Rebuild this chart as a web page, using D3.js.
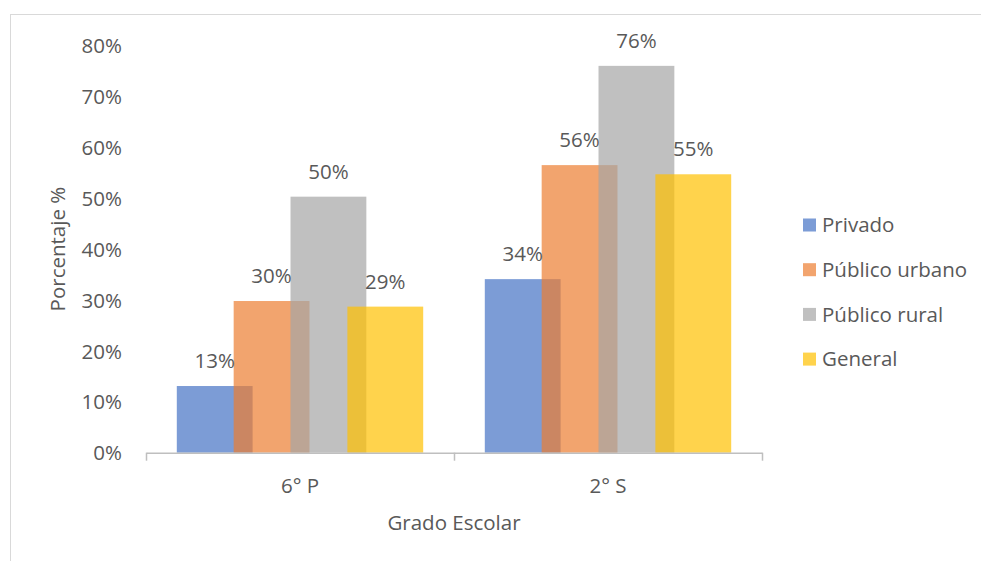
<!DOCTYPE html>
<html>
<head>
<meta charset="utf-8">
<script src="https://cdn.jsdelivr.net/npm/d3@7"></script>
<style>
  html, body { margin: 0; padding: 0; background: #fff; }
  svg { display: block; }
  text { font-family: "Open Sans", "Noto Sans", sans-serif; fill: #595959; }
</style>
</head>
<body>
<svg id="chart" width="981" height="561"></svg>
<script>
// ---- Data ----
const categories = ["6° P", "2° S"];
const seriesNames = ["Privado", "Público urbano", "Público rural", "General"];
const privado = [0.131, 0.341];
const publicoUrbano = [0.298, 0.565];
const publicoRural = [0.503, 0.760];
const general = [0.287, 0.547];
const yTicks = [0, 0.1, 0.2, 0.3, 0.4, 0.5, 0.6, 0.7, 0.8];
const colors = ["#4472C4", "#ED7D31", "#A5A5A5", "#FFC000"];
const xTitle = "Grado Escolar";
const yTitle = "Porcentaje %";

const seriesValues = [privado, publicoUrbano, publicoRural, general];

// ---- Layout ----
const svg = d3.select("#chart");
const plot = { left: 146, right: 762, top: 45.5, bottom: 452.7 };
const fontSize = 20.5;

// Outer border
svg.append("rect")
  .attr("x", 10.5).attr("y", 14.5)
  .attr("width", 1000).attr("height", 600)
  .attr("fill", "none").attr("stroke", "#D9D9D9").attr("stroke-width", 1);

const x = d3.scaleBand().domain(categories).range([plot.left, plot.right]).padding(0);
const y = d3.scaleLinear().domain([0, 0.8]).range([plot.bottom, plot.top]);

const groupW = x.bandwidth() * 0.8;
const overlap = 0.25;
const barW = groupW / ((seriesNames.length - 1) * (1 - overlap) + 1);
const step = barW * (1 - overlap);

const fmt = d3.format(".0%");

// Y axis labels (no line, no gridlines)
const yAxis = d3.axisLeft(y).tickValues(yTicks).tickFormat(fmt).tickSize(0).tickPadding(0);
const gy = svg.append("g").attr("transform", `translate(122,0)`).call(yAxis);
gy.select(".domain").remove();
gy.selectAll("text")
  .style("font-family", '"Open Sans", "Noto Sans", sans-serif')
  .style("font-size", fontSize + "px")
  .attr("fill", "#595959")
  .attr("dy", "0.35em");

// Bars
seriesNames.forEach((name, si) => {
  const vals = seriesValues[si];
  const g = svg.append("g");
  g.selectAll("rect").data(categories).join("rect")
    .attr("x", (c) => x(c) + (x.bandwidth() - groupW) / 2 + si * step)
    .attr("y", (c, i) => y(vals[i]))
    .attr("width", barW)
    .attr("height", (c, i) => y(0) - y(vals[i]))
    .attr("fill", colors[si])
    .attr("fill-opacity", 0.7);
});

// Value labels
seriesNames.forEach((name, si) => {
  const vals = seriesValues[si];
  svg.append("g").selectAll("text").data(categories).join("text")
    .attr("x", (c) => x(c) + (x.bandwidth() - groupW) / 2 + si * step + barW / 2)
    .attr("y", (c, i) => y(vals[i]) - 18)
    .attr("text-anchor", "middle")
    .style("font-size", fontSize + "px")
    .attr("fill", "#404040")
    .text((c, i) => fmt(vals[i]));
});

// X axis
const xAxisScale = d3.scaleLinear().domain([0, categories.length]).range([plot.left, plot.right]);
const gx = svg.append("g").attr("transform", `translate(0,${plot.bottom})`);
gx.call(d3.axisBottom(xAxisScale).tickValues(d3.range(categories.length + 1)).tickFormat("").tickSize(8).tickSizeOuter(0));
gx.select(".domain").attr("stroke", "#BFBFBF").attr("stroke-width", 1.5);
gx.selectAll(".tick line").attr("stroke", "#BFBFBF").attr("stroke-width", 1.5);

// Category labels
svg.append("g").selectAll("text").data(categories).join("text")
  .attr("x", (c) => x(c) + x.bandwidth() / 2)
  .attr("y", 493)
  .attr("text-anchor", "middle")
  .style("font-size", fontSize + "px")
  .text((c) => c);

// Axis titles
svg.append("text")
  .attr("x", (plot.left + plot.right) / 2)
  .attr("y", 530)
  .attr("text-anchor", "middle")
  .style("font-size", fontSize + "px")
  .text(xTitle);

svg.append("text")
  .attr("transform", `translate(65,${(plot.top + plot.bottom) / 2}) rotate(-90)`)
  .attr("text-anchor", "middle")
  .style("font-size", fontSize + "px")
  .text(yTitle);

// Legend
const legend = svg.append("g").attr("transform", "translate(803,225)");
seriesNames.forEach((name, i) => {
  const g = legend.append("g").attr("transform", `translate(0,${i * 44.7})`);
  g.append("rect").attr("x", 0).attr("y", -6.5).attr("width", 13).attr("height", 13)
    .attr("fill", colors[i]).attr("fill-opacity", 0.7);
  g.append("text").attr("x", 19).attr("y", 0).attr("dy", "0.35em")
    .style("font-size", fontSize + "px")
    .text(name);
});
</script>
</body>
</html>
